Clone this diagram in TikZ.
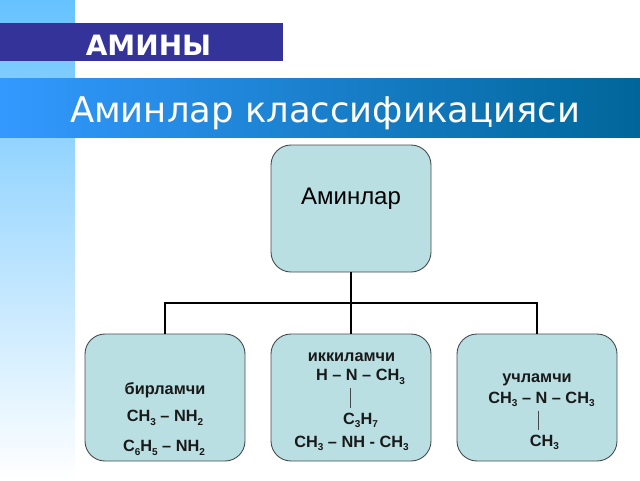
\documentclass[tikz,border=0pt]{standalone}
\usepackage{fontspec}
\setmainfont{Liberation Sans}
\newfontfamily\djv{DejaVu Sans}
\newcommand{\lowsub}[1]{{\fontsize{10}{10}\selectfont\raisebox{-3.4pt}{#1}}}
\definecolor{boxfill}{HTML}{B9DFE3}
\definecolor{boxline}{HTML}{454B4D}
\definecolor{stripblue}{RGB}{102,194,255}
\definecolor{headblue}{RGB}{51,51,153}
\definecolor{bandleft}{RGB}{51,153,255}
\definecolor{bandright}{RGB}{0,102,153}
\tikzset{
  classbox/.style={draw=boxline,line width=0.9pt,fill=boxfill,rounded corners=20pt,minimum width=160pt,minimum height=127pt,inner sep=0pt,outer sep=0pt,anchor=north west},
  link/.style={draw=black,line width=2.2pt},
  bondline/.style={draw=boxline,line width=1.2pt},
  formula/.style={anchor=base,inner sep=0pt,text=black!90,font=\fontsize{16.3}{18}\selectfont\bfseries},
}
\begin{document}
\begin{tikzpicture}[x=1pt,y=-1pt]
\useasboundingbox (0,0) rectangle (640,480);
\fill[white] (0,0) rectangle (640,480);
\shade[top color=stripblue,bottom color=white] (0,0) rectangle (75,480);
\fill[headblue] (0,23) rectangle (283,61);
\shade[left color=bandleft,right color=bandright] (0,78) rectangle (640,137);
\node[anchor=base,inner sep=0pt,text=white,font=\djv\fontsize{28}{30}\selectfont\bfseries] (head) at (148.5,55) {АМИНЫ};
\node[anchor=base,inner sep=0pt,text=white,font=\djv\fontsize{35.4}{40}\selectfont] (title) at (325,122.7) {Аминлар классификацияси};

\node[classbox] (top) at (271,145) {};
\node[classbox] (b1) at (85,334) {};
\node[classbox] (b2) at (271,334) {};
\node[classbox] (b3) at (457,334) {};
\coordinate (bus) at (351,303);
\draw[link] (top.south) -- (bus);
\draw[link] (b1.north) |- (bus);
\draw[link] (b3.north) |- (bus);
\draw[link] (bus) -- (b2.north);

\node[anchor=base,inner sep=0pt,text=black,font=\fontsize{24}{28}\selectfont] (t0) at (351,204) {Аминлар};

\node[formula] (a1) at (165,394) {бирламчи};
\node[formula] (a2) at (165,421.6) {CH\lowsub{3} – NH\lowsub{2}};
\node[formula] (a3) at (164,451.6) {C\lowsub{6}H\lowsub{5} – NH\lowsub{2}};

\node[formula] (m1) at (351.5,361) {иккиламчи};
\node[formula] (m2) at (360.5,380.7) {H – N – CH\lowsub{3}};
\coordinate (m3a) at (350.7,388);
\coordinate (m3b) at (350.7,408);
\draw[bondline] (m3a) -- (m3b);
\node[formula] (m4) at (360.5,424) {C\lowsub{3}H\lowsub{7}};
\node[formula] (m5) at (351.5,447) {CH\lowsub{3} – NH - CH\lowsub{3}};

\node[formula] (r1) at (537,382) {учламчи};
\node[formula] (r2) at (541.5,403) {CH\lowsub{3} – N – CH\lowsub{3}};
\coordinate (r3a) at (538.7,411);
\coordinate (r3b) at (538.7,430);
\draw[bondline] (r3a) -- (r3b);
\node[formula] (r4) at (544.5,446) {CH\lowsub{3}};
\end{tikzpicture}
\end{document}
